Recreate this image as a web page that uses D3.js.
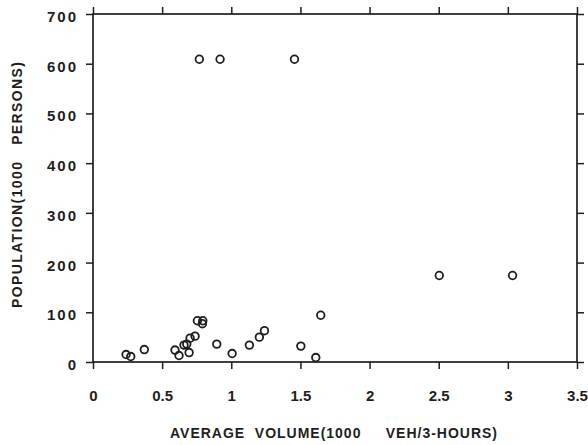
<!DOCTYPE html>
<html><head><meta charset="utf-8">
<script src="https://cdn.jsdelivr.net/npm/d3@7"></script>
<style>body{margin:0;background:#fff}svg{display:block}text{white-space:pre}</style>
</head><body>
<svg id="c" width="588" height="445"></svg>
<script>
const volume = [0.769,0.919,1.457,2.504,3.034,1.647,1.503,1.611,0.239,0.273,0.371,0.593,0.622,0.658,0.678,0.695,0.702,0.738,0.755,0.794,0.791,0.895,1.006,1.131,1.203,1.240];
const population = [609,609,609,174,174,94,32,9,15,11,25,24,13,34,36,19,48,52,83,83,77,36,17,34,50,63];
const xTicks = [0,0.5,1,1.5,2,2.5,3,3.5];
const xTickLabels = ["0","0.5","1","1.5","2","2.5","3","3.5"];
const yTicks = [0,100,200,300,400,500,600,700];
const xTitle = "AVERAGE  VOLUME(1000     VEH/3-HOURS)";
const yTitle = "POPULATION(1000   PERSONS)";

const svg = d3.select("#c");
const L = 93, R = 577, T = 14, B = 362;
const x = d3.scaleLinear().domain([0,3.5]).range([L,R]);
const y = d3.scaleLinear().domain([0,700]).range([B,T]);
const col = "#1e1e1e";
const font = "'Liberation Sans', Arial, sans-serif";

function styleAxis(g){
  g.select(".domain").remove();
  g.selectAll(".tick line").attr("stroke",col).attr("stroke-width",1.5);
}
svg.append("rect").attr("x",L).attr("y",T).attr("width",R-L).attr("height",B-T)
  .attr("fill","none").attr("stroke",col).attr("stroke-width",1.7);

svg.append("g").attr("transform",`translate(0,${B})`)
  .call(d3.axisBottom(x).tickValues(xTicks).tickSize(7).tickFormat((d,i)=>xTickLabels[i]).tickPadding(21))
  .call(styleAxis)
  .call(g=>g.selectAll("text").attr("font-family",font).attr("font-weight","bold").attr("font-size",15).attr("fill",col));
svg.append("g").attr("transform",`translate(0,${T})`)
  .call(d3.axisTop(x).tickValues(xTicks).tickSize(7).tickFormat(""))
  .call(styleAxis);
svg.append("g").attr("transform",`translate(${L},0)`)
  .call(d3.axisLeft(y).tickValues(yTicks).tickSize(7).tickPadding(8))
  .call(styleAxis)
  .call(g=>g.selectAll("text").attr("font-family",font).attr("font-weight","bold").attr("font-size",15).attr("letter-spacing",2).attr("dy","0.5em").attr("fill",col));
svg.append("g").attr("transform",`translate(${R},0)`)
  .call(d3.axisRight(y).tickValues(yTicks).tickSize(7).tickFormat(""))
  .call(styleAxis);

svg.append("text").attr("x",333.5).attr("y",438).attr("text-anchor","middle")
  .attr("font-family",font).attr("font-weight","bold").attr("font-size",14).attr("fill",col)
  .attr("textLength",327).attr("lengthAdjust","spacing").text(xTitle);
svg.append("text").attr("transform","translate(22,185) rotate(-90)").attr("text-anchor","middle")
  .attr("font-family",font).attr("font-weight","bold").attr("font-size",14).attr("fill",col)
  .attr("textLength",246).attr("lengthAdjust","spacing").text(yTitle);

svg.append("g").selectAll("circle").data(volume).join("circle")
  .attr("cx",d=>x(d)).attr("cy",(d,i)=>y(population[i])).attr("r",3.8)
  .attr("fill","none").attr("stroke",col).attr("stroke-width",1.8);
</script>
</body></html>
